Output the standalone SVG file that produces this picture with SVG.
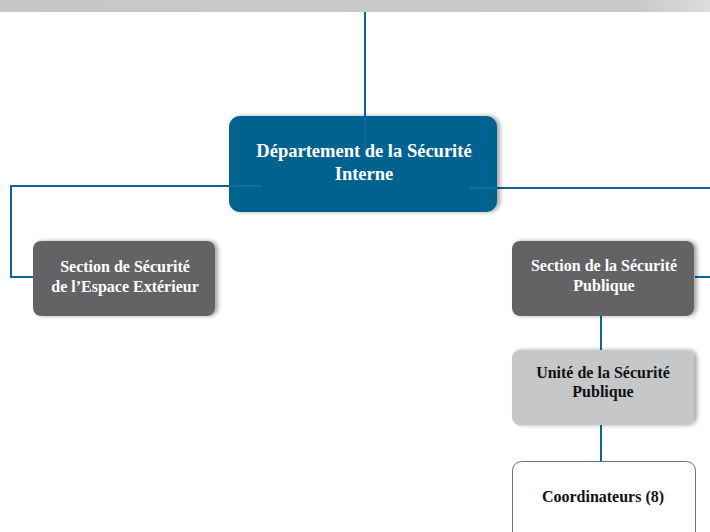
<svg xmlns="http://www.w3.org/2000/svg" width="710" height="532" viewBox="0 0 710 532">
<defs>
<linearGradient id="bar" x1="0" y1="0" x2="1" y2="0">
<stop offset="0" stop-color="#c6c7c9"/><stop offset="0.9" stop-color="#c8c9cb"/><stop offset="1" stop-color="#dcdddf"/>
</linearGradient>
<filter id="sh" x="-10%" y="-10%" width="125%" height="130%">
<feGaussianBlur in="SourceAlpha" stdDeviation="2"/>
<feOffset dx="3" dy="0" result="b"/>
<feComponentTransfer><feFuncA type="linear" slope="0.35"/></feComponentTransfer>
<feMerge><feMergeNode/><feMergeNode in="SourceGraphic"/></feMerge>
</filter>
</defs>
<style>
.c{fill:none;stroke:#0b6696;stroke-width:2}
.t{font-family:"Liberation Serif","Times New Roman",serif;font-weight:bold;text-anchor:middle}
.w{fill:#ffffff}
.k{fill:#111111}
</style>
<rect x="0" y="0" width="710" height="12" fill="url(#bar)"/>
<g id="connectors">
<path class="c" d="M365 12 V150"/>
<path class="c" d="M262 186 H11 V277 H34"/>
<path class="c" d="M470 188 H710"/>
<path class="c" d="M695 277 H710"/>
<path class="c" d="M601 315 V351"/>
<path class="c" d="M601 424 V462"/>
</g>
<g id="dept">
<rect x="229" y="116" width="268" height="96" rx="11" fill="#01628f" filter="url(#sh)"/>
<path d="M365 116 V150" stroke="#1d74a0" stroke-width="1.5" opacity="0.6"/>
<path d="M229 186 H262 M470 188 H497" stroke="#2a7fa8" stroke-width="1.5" opacity="0.6"/>
<text class="t w" x="364" y="157" font-size="18.5">Département de la Sécurité</text>
<text class="t w" x="364" y="180" font-size="18.5">Interne</text>
</g>
<g id="sec-ext">
<rect x="33" y="241" width="182" height="75" rx="8" fill="#636466" filter="url(#sh)"/>
<text class="t w" x="125" y="272" font-size="16">Section de Sécurité</text>
<text class="t w" x="125" y="292" font-size="16">de l’Espace Extérieur</text>
</g>
<g id="sec-pub">
<rect x="512" y="241" width="182" height="75" rx="8" fill="#636466" filter="url(#sh)"/>
<text class="t w" x="604" y="271" font-size="16">Section de la Sécurité</text>
<text class="t w" x="604" y="291" font-size="16">Publique</text>
</g>
<g id="unite">
<rect x="512" y="350" width="182" height="75" rx="8" fill="#c6c7c9" filter="url(#sh)"/>
<text class="t k" x="603" y="378" font-size="16">Unité de la Sécurité</text>
<text class="t k" x="603" y="397" font-size="16">Publique</text>
</g>
<g id="coord">
<rect x="512.5" y="461.5" width="183" height="80" rx="9" fill="#ffffff" stroke="#6d6e70" stroke-width="1"/>
<text class="t k" x="603" y="502" font-size="16">Coordinateurs (8)</text>
</g>
</svg>
